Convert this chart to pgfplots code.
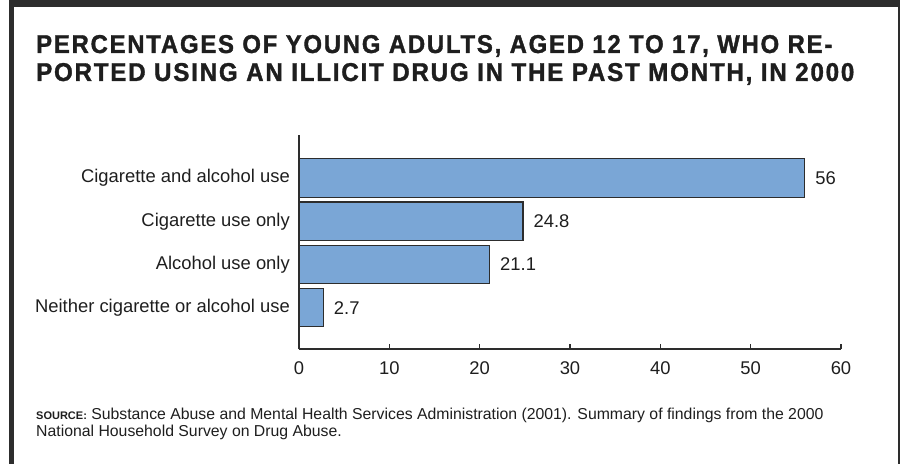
\documentclass[border=0pt]{standalone}
\usepackage{pgfplots}
\pgfplotsset{compat=1.18}
\usepackage{fontspec}
\setmainfont{Liberation Sans}
\newfontfamily\titlefont[FakeStretch=0.8,LetterSpace=6,FakeBold=1.2]{Liberation Sans Bold}
\definecolor{barblue}{RGB}{122,166,214}
\definecolor{darkline}{RGB}{45,45,45}
\definecolor{txt}{RGB}{30,30,30}
\pgfplotstableread{
y val
0 2.7
1 21.1
2 24.8
3 56
}\drugdata
\begin{document}
\begin{tikzpicture}
\path[use as bounding box] (0pt,0pt) rectangle (902pt,464pt);
\fill[darkline] (9pt,0pt) rectangle (14pt,464pt);
\fill[darkline] (9pt,457pt) rectangle (900pt,464pt);
\fill[darkline] (898pt,0pt) rectangle (900pt,464pt);
\node[anchor=base west, inner sep=0pt, text=txt] at (36pt,411pt) {\resizebox{796pt}{18pt}{\titlefont PERCENTAGES OF YOUNG ADULTS, AGED 12 TO 17, WHO RE-}};
\node[anchor=base west, inner sep=0pt, text=txt] at (36pt,383pt) {\resizebox{818pt}{18pt}{\titlefont PORTED USING AN ILLICIT DRUG IN THE PAST MONTH, IN 2000}};
\node[anchor=base west, inner sep=0pt, text=txt, font=\fontsize{15.8}{17}\selectfont] at (36pt,45pt) {{\bfseries\fontsize{11}{12}\selectfont SOURCE:} Substance Abuse and Mental Health Services Administration (2001). Summary of findings from the 2000};
\node[anchor=base west, inner sep=0pt, text=txt, font=\fontsize{15.8}{17}\selectfont] at (36pt,28pt) {National Household Survey on Drug Abuse.};
\begin{axis}[
  at={(299pt,115pt)}, anchor=south west, scale only axis,
  width=542pt, height=214pt,
  xmin=0, xmax=60, ymin=-0.96, ymax=4.0,
  axis x line=bottom, axis y line=left,
  axis line style={darkline, line width=1.2pt, -},
  xtick={0,10,20,30,40,50,60},
  ytick={0,1,2,3},
  yticklabels={Neither cigarette or alcohol use, Alcohol use only, Cigarette use only, Cigarette and alcohol use},
  tick align=inside,
  major tick length=5pt,
  xtick style={darkline, line width=1.2pt},
  ytick style={draw=none},
  /pgf/number format/assume math mode=true,
  tick label style={font=\fontsize{18.4}{20}\selectfont, text=txt},
  xticklabel style={inner sep=0pt, yshift=-12pt},
  yticklabel style={inner sep=0pt, xshift=-4pt},
  xbar, bar width=38.5pt,
  nodes near coords,
  nodes near coords style={anchor=west, inner sep=0pt, xshift=10pt, font=\fontsize{18.4}{20}\selectfont, text=txt},
  clip=false,
]
\addplot[fill=barblue, draw=darkline, line width=1.2pt] table[x=val, y=y] {\drugdata};
\end{axis}
\end{tikzpicture}
\end{document}
